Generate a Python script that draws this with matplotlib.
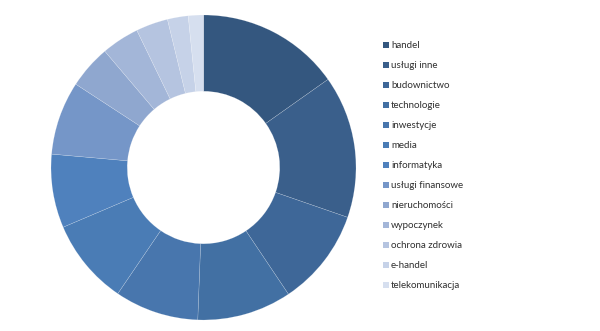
import matplotlib
matplotlib.use("Agg")
import matplotlib.pyplot as plt
from matplotlib.patches import Rectangle

categories = ["handel", "usługi inne", "budownictwo", "technologie", "inwestycje",
              "media", "informatyka", "usługi finansowe", "nieruchomości",
              "wypoczynek", "ochrona zdrowia", "e-handel", "telekomunikacja"]
values = [15.2, 15.1, 10.3, 10.0, 8.9, 9.1, 7.8, 7.8, 4.6, 4.0, 3.4, 2.2, 1.6]
colors = ["#34577F", "#3A5F8B", "#3E6798", "#4270A3", "#4876AD", "#4A7CB5",
          "#4F81BD", "#7596C8", "#8FA7CF", "#A3B6D8", "#B5C4E0", "#C6D2E8", "#D6DFEF"]

W, H = 600, 331
fig = plt.figure(figsize=(W / 100, H / 100), dpi=100)
fig.patch.set_facecolor("white")

cx, cy, r = 203.5, 167.5, 152.5
ax = fig.add_axes([(cx - r) / W, (H - cy - r) / H, 2 * r / W, 2 * r / H])
ax.pie(values, colors=colors, startangle=90, counterclock=False, radius=1.0,
       wedgeprops=dict(width=0.5, edgecolor=(1, 1, 1, 0.35), linewidth=0.3))
ax.set_xlim(-1, 1)
ax.set_ylim(-1, 1)
ax.set_aspect("equal")
ax.axis("off")

y0, dy = 45, 20.0
for i, (cat, col) in enumerate(zip(categories, colors)):
    y = y0 + i * dy
    fig.patches.append(Rectangle(((383) / W, (H - y - 3) / H), 6 / W, 6 / H,
                                 transform=fig.transFigure, facecolor=col,
                                 edgecolor="none"))
    fig.text(391 / W, (H - y) / H, cat, fontsize=7, family="Lato",
             color="#303030", va="center", ha="left")

fig.savefig("out.png", dpi=100)
